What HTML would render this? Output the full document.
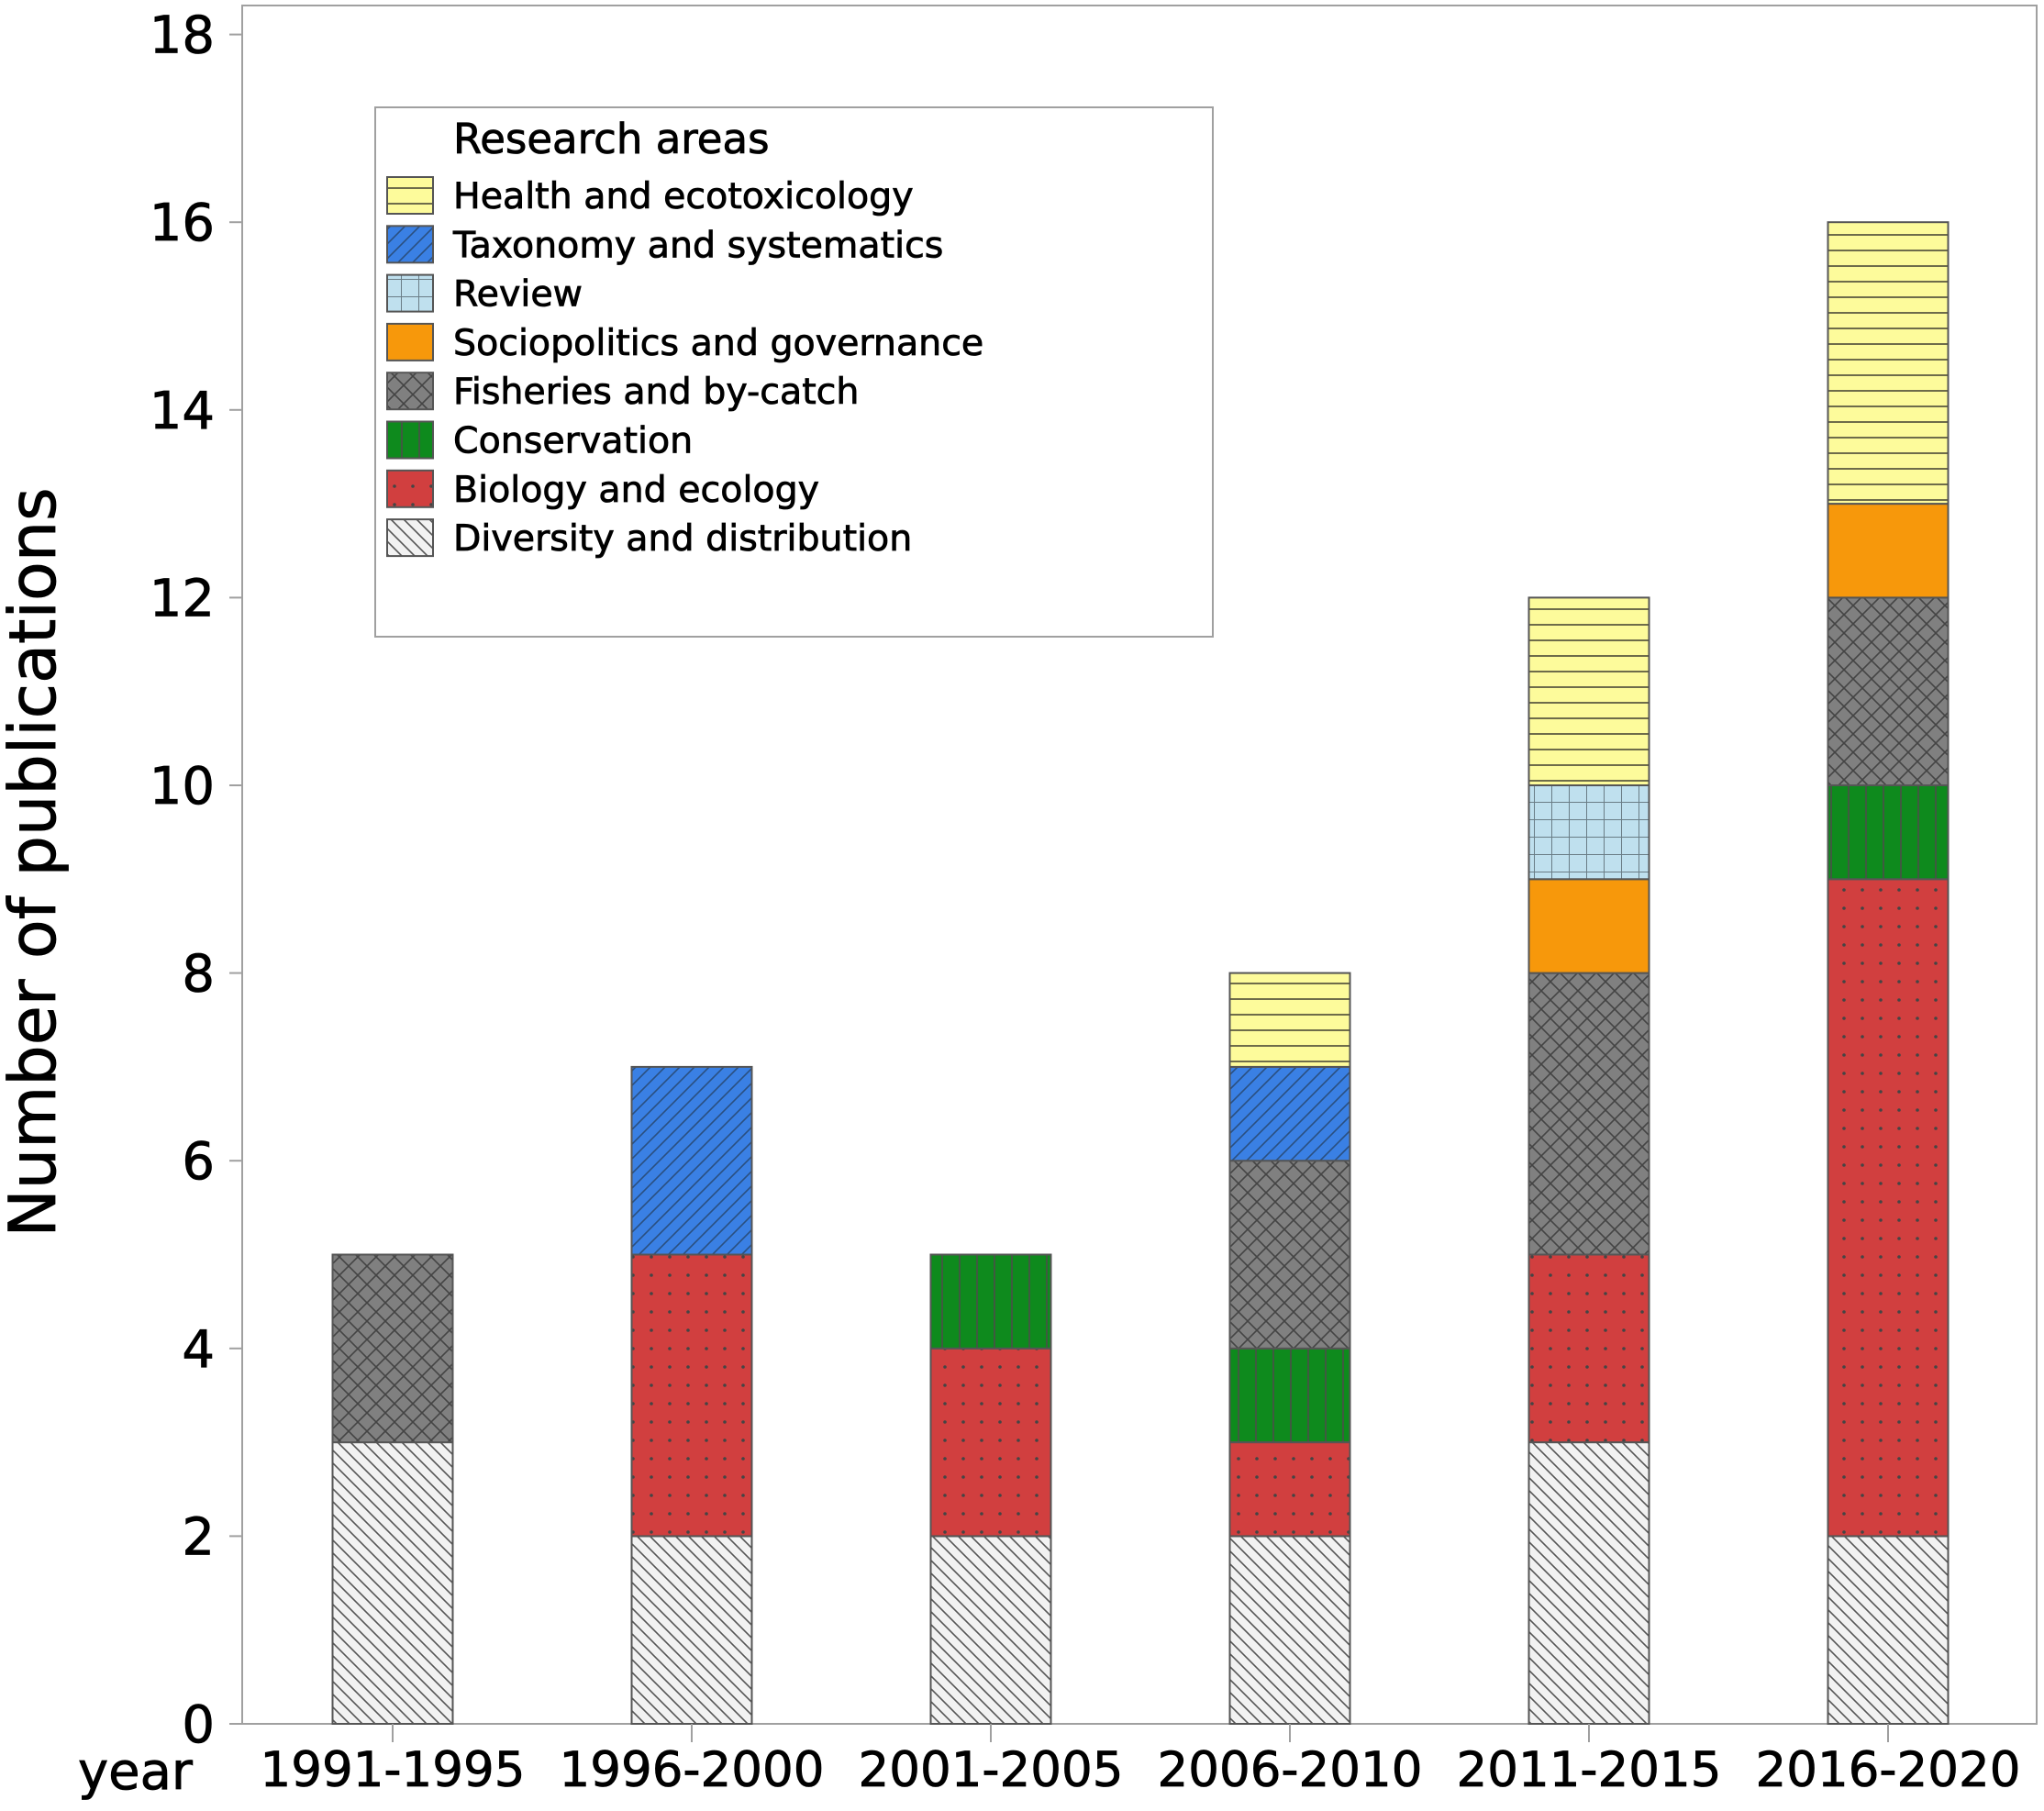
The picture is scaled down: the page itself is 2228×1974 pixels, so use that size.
<!DOCTYPE html>
<html><head><meta charset="utf-8"><style>
html,body{margin:0;padding:0;background:#fff;}
svg text{font-family:"DejaVu Sans","Liberation Sans",sans-serif;fill:#000;stroke:#000;stroke-width:0.8;}
</style></head><body>
<svg id="chart" width="2228" height="1969" viewBox="0 0 2228 1969" xmlns="http://www.w3.org/2000/svg">
<defs>
<pattern id="p-div" patternUnits="userSpaceOnUse" width="14" height="14"><rect width="14" height="14" fill="#f2f2f2"/><path d="M-2,-2 L16,16 M-2,12 L2,16 M12,-2 L16,2" stroke="#555" stroke-width="1.6"/></pattern>
<pattern id="p-bio" patternUnits="userSpaceOnUse" width="20" height="20"><rect width="20" height="20" fill="#d13f3f"/><circle cx="10" cy="10" r="1.8" fill="#444"/></pattern>
<pattern id="p-con" patternUnits="userSpaceOnUse" width="19" height="20"><rect width="19" height="20" fill="#0e8a1d"/><rect x="0" width="2" height="20" fill="#3f5a40"/></pattern>
<pattern id="p-fish" patternUnits="userSpaceOnUse" width="20" height="20"><rect width="20" height="20" fill="#808080"/><path d="M0,0 L20,20 M20,0 L0,20" stroke="#444" stroke-width="1.6"/></pattern>
<pattern id="p-soc" patternUnits="userSpaceOnUse" width="20" height="20"><rect width="20" height="20" fill="#f7980b"/></pattern>
<pattern id="p-rev" patternUnits="userSpaceOnUse" width="19" height="19"><rect width="19" height="19" fill="#bfe0ee"/><path d="M0,0 H19 M0,0 V19" stroke="#6a7d86" stroke-width="2"/></pattern>
<pattern id="p-tax" patternUnits="userSpaceOnUse" width="16" height="16"><rect width="16" height="16" fill="#3a80e4"/><path d="M-2,18 L18,-2 M-2,2 L2,-2 M14,18 L18,14" stroke="#2a4f80" stroke-width="1.6"/></pattern>
<pattern id="p-hea" patternUnits="userSpaceOnUse" width="20" height="17"><rect width="20" height="17" fill="#fdfb9b"/><rect y="0" width="20" height="2" fill="#6e6c4a"/></pattern>
</defs>
<g id="plot"></g>
</svg>
<script>
const categories = ["1991-1995","1996-2000","2001-2005","2006-2010","2011-2015","2016-2020"];
const seriesNames = ["Diversity and distribution","Biology and ecology","Conservation","Fisheries and by-catch","Sociopolitics and governance","Review","Taxonomy and systematics","Health and ecotoxicology"];
const diversity = [3,2,2,2,3,2];
const biology = [0,3,2,1,2,7];
const conservation = [0,0,1,1,0,1];
const fisheries = [2,0,0,2,3,2];
const sociopolitics = [0,0,0,0,1,1];
const review = [0,0,0,0,1,0];
const taxonomy = [0,2,0,1,0,0];
const health = [0,0,0,1,2,3];
const yTicks = [0,2,4,6,8,10,12,14,16,18];
const legendOrder = [7,6,5,4,3,2,1,0];

const series = [diversity,biology,conservation,fisheries,sociopolitics,review,taxonomy,health];
const fills = ["url(#p-div)","url(#p-bio)","url(#p-con)","url(#p-fish)","url(#p-soc)","url(#p-rev)","url(#p-tax)","url(#p-hea)"];
const slug = ["diversity","biology","conservation","fisheries","sociopolitics","review","taxonomy","health"];
const NS="http://www.w3.org/2000/svg";
const g=document.getElementById('plot');
const L=264,R=2220,T=6,B=1879;
const y0=1879, unit=102.3;
function y(v){return y0-v*unit;}
const centers0=428, step=326;
function x(i){return centers0+i*step;}
const bw=131;
function mk(tag,attrs,parent){const e=document.createElementNS(NS,tag);for(const k in attrs)e.setAttribute(k,attrs[k]);(parent||g).appendChild(e);return e;}

const fr=mk('rect',{x:L,y:T,width:R-L,height:B-T,fill:'none',stroke:'#a0a0a0','stroke-width':2});



yTicks.forEach(v=>{
  const tk=mk('line',{x1:L-14,x2:L,y1:y(v),y2:y(v),stroke:'#a0a0a0','stroke-width':2});
  
  
  const t=mk('text',{x:L-30,y:y(v)+20,'text-anchor':'end','font-size':56});
  t.textContent=v;
  
  
});

categories.forEach((c,i)=>{
  let acc=0;
  series.forEach((s,k)=>{
    const v=s[i]; if(!v) return;
    const r=mk('rect',{x:x(i)-bw/2,y:y(acc+v),width:bw,height:v*unit,fill:fills[k],stroke:'#555','stroke-width':2});
    
    
    acc+=v;
  });
  const tk=mk('line',{x1:x(i),x2:x(i),y1:B,y2:B+20,stroke:'#a0a0a0','stroke-width':2});
  
  
  const t=mk('text',{x:x(i),y:1947,'text-anchor':'middle','font-size':53});
  t.textContent=c;
  
  
});

const yr=mk('text',{x:85,y:1950,'font-size':56});
yr.textContent='year';



const yt=mk('text',{x:0,y:0,'text-anchor':'middle','font-size':70,transform:'translate(60,940) rotate(-90)'});
yt.textContent='Number of publications';



const lg=mk('g',{});


mk('rect',{x:409,y:117,width:913,height:577,fill:'#fff',stroke:'#a0a0a0','stroke-width':2},lg);
const lt=mk('text',{x:494,y:167,'font-size':45},lg);
lt.textContent='Research areas';


legendOrder.forEach((k,j)=>{
  const cy=213+j*53.3;
  const sw=mk('rect',{x:422,y:cy-20,width:50,height:40,fill:fills[k],stroke:'#555','stroke-width':2},lg);
  
  
  const t=mk('text',{x:494,y:cy+14,'font-size':39.5},lg);
  t.textContent=seriesNames[k];
  
  
});
</script>
</body></html>
